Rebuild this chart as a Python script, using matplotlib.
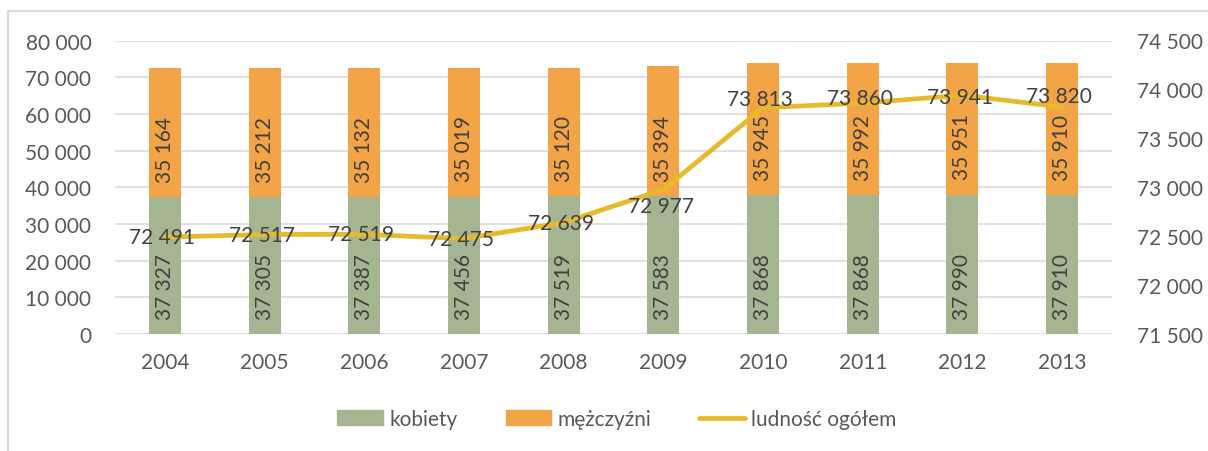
import numpy as np
import matplotlib.pyplot as plt
from matplotlib.patches import Rectangle, Patch
from matplotlib.lines import Line2D
from matplotlib.ticker import FuncFormatter, MultipleLocator

plt.rcParams['font.family'] = ['Lato', 'DejaVu Sans']

YEARS = ['2004', '2005', '2006', '2007', '2008', '2009', '2010', '2011', '2012', '2013']
KOBIETY = [37327, 37305, 37387, 37456, 37519, 37583, 37868, 37868, 37990, 37910]
MEZCZYZNI = [35164, 35212, 35132, 35019, 35120, 35394, 35945, 35992, 35951, 35910]
OGOLEM = [72491, 72517, 72519, 72475, 72639, 72977, 73813, 73860, 73941, 73820]

GREEN = '#A5B592'
ORANGE = '#F3A447'
GOLD = '#E6BA2A'
GRID = '#D9D9D9'
TICK_COLOR = '#595959'
LABEL_COLOR = '#404040'
FS = 15
FS_LABEL = 15


def spaced(v, pos=None):
    return f"{int(round(v)):,}".replace(',', ' ')


def main() -> None:
    fig = plt.figure(figsize=(12.08, 4.52), dpi=100)
    fig.patches.append(Rectangle((8 / 1208, -0.1), 1.2, 1 - 12 / 452 + 0.1,
                                 transform=fig.transFigure, fill=False,
                                 edgecolor=GRID, linewidth=1.5))

    ax = fig.add_axes([115 / 1208, 1 - 335 / 452, 997 / 1208, 293.5 / 452])
    x = np.arange(len(YEARS))
    w = 0.32

    ax.bar(x, KOBIETY, w, color=GREEN, zorder=2)
    ax.bar(x, MEZCZYZNI, w, bottom=KOBIETY, color=ORANGE, zorder=2)

    ax.set_xlim(-0.5, len(YEARS) - 0.5)
    ax.set_ylim(0, 80000)
    ax.yaxis.set_major_locator(MultipleLocator(10000))
    ax.yaxis.set_major_formatter(FuncFormatter(spaced))
    ax.grid(axis='y', color=GRID, linewidth=1.1, zorder=0)
    ax.set_axisbelow(True)
    ax.set_xticks(x)
    ax.set_xticklabels(YEARS)
    ax.tick_params(length=0, labelsize=FS, labelcolor=TICK_COLOR)
    ax.tick_params(axis='y', pad=17)
    ax.tick_params(axis='x', pad=13)
    for s in ax.spines.values():
        s.set_visible(False)

    # bar labels, near the base of each segment
    for i in x:
        ax.annotate(spaced(KOBIETY[i]), (i, 0), xytext=(0, 11), textcoords='offset points',
                    rotation=90, ha='center', va='bottom', fontsize=FS_LABEL, color=LABEL_COLOR, zorder=5)
        ax.annotate(spaced(MEZCZYZNI[i]), (i, KOBIETY[i]), xytext=(0, 11), textcoords='offset points',
                    rotation=90, ha='center', va='bottom', fontsize=FS_LABEL, color=LABEL_COLOR, zorder=5)

    ax2 = ax.twinx()
    ax2.set_ylim(71500, 74500)
    ax2.yaxis.set_major_locator(MultipleLocator(500))
    ax2.yaxis.set_major_formatter(FuncFormatter(spaced))
    ax2.tick_params(length=0, labelsize=FS, labelcolor=TICK_COLOR, pad=18)
    for s in ax2.spines.values():
        s.set_visible(False)
    ax2.plot(x, OGOLEM, color=GOLD, linewidth=3.4, solid_capstyle='round', zorder=3)

    offsets = [0, 0, 0, 0, 0, -12, 6, 4, -1, 8]
    for i in x:
        ax2.annotate(spaced(OGOLEM[i]), (i, OGOLEM[i]), xytext=(-2, offsets[i]),
                     textcoords='offset points', ha='center', va='center',
                     fontsize=FS_LABEL, color=LABEL_COLOR, zorder=6)

    handles = [Patch(color=GREEN), Patch(color=ORANGE),
               Line2D([], [], color=GOLD, linewidth=3.4, solid_capstyle='round')]
    fig.legend(handles, ['kobiety', 'mężczyźni', 'ludność ogółem'], loc='center',
               bbox_to_anchor=(617 / 1208, 1 - 420 / 452), ncol=3, frameon=False,
               fontsize=FS, labelcolor=TICK_COLOR, handlelength=2.2, handleheight=0.75,
               handletextpad=0.3, columnspacing=2.3)

    fig.savefig('out.png', dpi=100)


if __name__ == "__main__":
    main()
